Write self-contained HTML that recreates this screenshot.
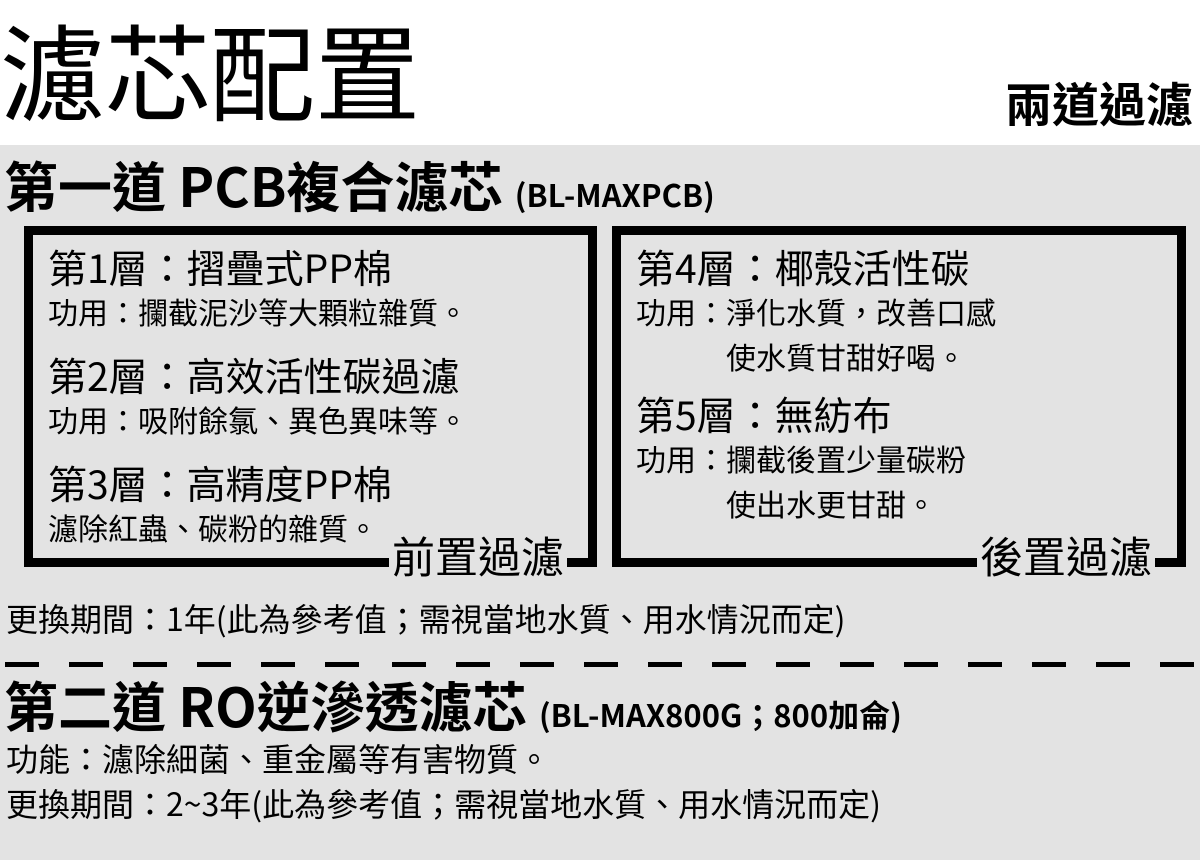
<!DOCTYPE html>
<html><head><meta charset="utf-8"><style>
body{margin:0;width:1200px;height:860px;position:relative;overflow:hidden;background:#fff;font-family:"Noto Sans CJK TC","Liberation Sans",sans-serif;color:#000}
.a{position:absolute;white-space:nowrap;line-height:1}
.gray{position:absolute;left:0;top:145px;width:1200px;height:715px;background:#e3e3e3}
.box{position:absolute;border:9px solid #000;box-sizing:border-box}
.h{font-size:39px}
.t{font-size:30px}
.b{font-size:32px}
.lab{font-size:43px;background:#e3e3e3;padding:0 3px}
.dash{position:absolute;top:662px;height:5px;width:34px;background:#000}
</style></head><body>
<div class="a" style="left:0;top:16px;font-size:105px">濾芯配置</div>
<div class="a" style="left:1005px;top:78px;font-size:47px;font-weight:bold">兩道過濾</div>
<div class="gray"></div>
<div class="a" style="left:4px;top:157px;font-size:54px;font-weight:bold">第一道 PCB複合濾芯 <span style="font-size:31px">(BL-MAXPCB)</span></div>
<div class="box" style="left:24px;top:226px;width:573px;height:341px"></div>
<div class="box" style="left:612px;top:226px;width:574px;height:341px"></div>
<div class="a h" style="left:48px;top:248px">第1層：摺疊式PP棉</div>
<div class="a t" style="left:48px;top:296px">功用：攔截泥沙等大顆粒雜質。</div>
<div class="a h" style="left:48px;top:356px">第2層：高效活性碳過濾</div>
<div class="a t" style="left:48px;top:404px">功用：吸附餘氯、異色異味等。</div>
<div class="a h" style="left:48px;top:464px">第3層：高精度PP棉</div>
<div class="a t" style="left:48px;top:512px">濾除紅蟲、碳粉的雜質。</div>
<div class="a lab" style="left:389px;top:534px">前置過濾</div>
<div class="a h" style="left:636px;top:248px">第4層：椰殼活性碳</div>
<div class="a t" style="left:636px;top:296px">功用：淨化水質，改善口感</div>
<div class="a t" style="left:726px;top:341px">使水質甘甜好喝。</div>
<div class="a h" style="left:636px;top:395px">第5層：無紡布</div>
<div class="a t" style="left:636px;top:443px">功用：攔截後置少量碳粉</div>
<div class="a t" style="left:726px;top:488px">使出水更甘甜。</div>
<div class="a lab" style="left:977px;top:534px">後置過濾</div>
<div class="a b" style="left:6px;top:602px">更換期間：1年(此為參考值；需視當地水質、用水情況而定)</div>
<div class="a" style="left:4px;top:677px;font-size:54px;font-weight:bold">第二道 RO逆滲透濾芯 <span style="font-size:31px">(BL-MAX800G；800加侖)</span></div>
<div class="a b" style="left:6px;top:742px">功能：濾除細菌、重金屬等有害物質。</div>
<div class="a b" style="left:6px;top:787px">更換期間：2~3年(此為參考值；需視當地水質、用水情況而定)</div>
<div class="dash" style="left:5px"></div><div class="dash" style="left:69px"></div><div class="dash" style="left:133px"></div><div class="dash" style="left:197px"></div><div class="dash" style="left:261px"></div><div class="dash" style="left:325px"></div><div class="dash" style="left:392px"></div><div class="dash" style="left:456px"></div><div class="dash" style="left:520px"></div><div class="dash" style="left:584px"></div><div class="dash" style="left:648px"></div><div class="dash" style="left:712px"></div><div class="dash" style="left:776px"></div><div class="dash" style="left:840px"></div><div class="dash" style="left:904px"></div><div class="dash" style="left:968px"></div><div class="dash" style="left:1032px"></div><div class="dash" style="left:1096px"></div><div class="dash" style="left:1160px"></div>
</body></html>
